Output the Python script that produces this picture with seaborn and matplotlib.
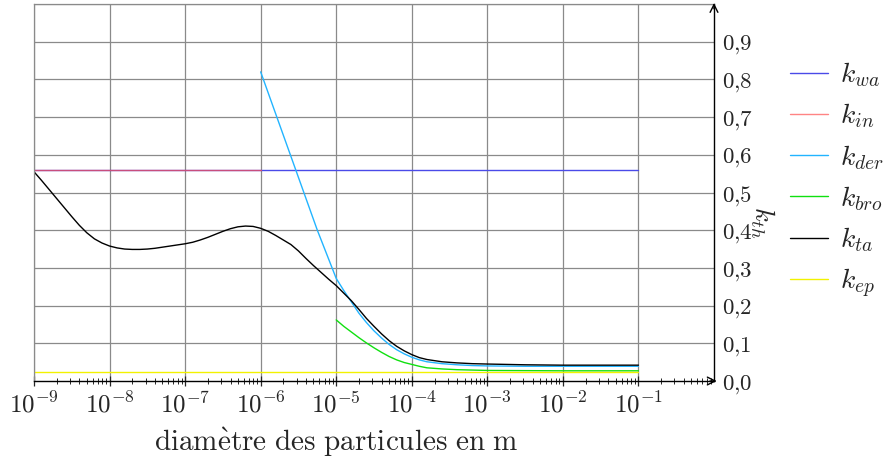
import numpy as np
import pandas as pd
import seaborn as sns
import matplotlib.pyplot as plt
from matplotlib.ticker import LogLocator, NullFormatter

# exponents of the particle diameter (m) and read-off conductivities
wa_exp = [-9, -1]
wa_val = [0.56, 0.56]

in_exp = [-9, -6]
in_val = [0.56, 0.56]

der_exp = [-6, -5.75, -5.5, -5.25, -5, -4.9, -4.8, -4.7, -4.6, -4.5, -4.4, -4.3, -4.2,
           -4.1, -4, -3.9, -3.8, -3.6, -3.4, -3.2, -3, -2.5, -2, -1]
der_val = [0.82, 0.68, 0.54, 0.40, 0.272, 0.24, 0.21, 0.18, 0.155, 0.133, 0.114, 0.097,
           0.083, 0.072, 0.063, 0.056, 0.051, 0.046, 0.043, 0.041, 0.040, 0.039, 0.039, 0.039]

bro_exp = [-5, -4.9, -4.8, -4.7, -4.6, -4.5, -4.4, -4.3, -4.2, -4.1, -4, -3.9, -3.8,
           -3.6, -3.4, -3.2, -3, -2, -1]
bro_val = [0.162, 0.145, 0.13, 0.115, 0.101, 0.088, 0.076, 0.065, 0.056, 0.049, 0.044,
           0.039, 0.035, 0.032, 0.030, 0.029, 0.028, 0.027, 0.027]

ta_exp = [-9, -8.9, -8.8, -8.7, -8.6, -8.5, -8.4, -8.3, -8.2, -8.1, -8, -7.9, -7.8, -7.7,
          -7.6, -7.5, -7.4, -7.3, -7.2, -7.1, -7, -6.9, -6.8, -6.7, -6.6, -6.5, -6.4,
          -6.3, -6.2, -6.1, -6, -5.9, -5.8, -5.7, -5.6, -5.5, -5.4, -5.3, -5.2, -5.1,
          -5, -4.9, -4.8, -4.7, -4.6, -4.5, -4.4, -4.3, -4.2, -4.1, -4, -3.9, -3.8,
          -3.6, -3.4, -3.2, -3, -2.5, -2, -1]
ta_val = [0.555, 0.532, 0.508, 0.484, 0.46, 0.436, 0.413, 0.393, 0.377, 0.366, 0.358,
          0.353, 0.350, 0.349, 0.349, 0.350, 0.352, 0.355, 0.358, 0.361, 0.364, 0.368,
          0.374, 0.381, 0.389, 0.397, 0.404, 0.409, 0.411, 0.410, 0.405, 0.397, 0.386,
          0.374, 0.362, 0.345, 0.325, 0.306, 0.288, 0.27, 0.253, 0.233, 0.213, 0.19,
          0.166, 0.145, 0.125, 0.107, 0.092, 0.08, 0.07, 0.062, 0.057, 0.051, 0.048,
          0.046, 0.045, 0.043, 0.042, 0.042]

ep_exp = [-9, -1]
ep_val = [0.025, 0.025]

series = [
    (r'$k_{wa}$', wa_exp, wa_val, '#4a4ae8', 1.0),
    (r'$k_{in}$', in_exp, in_val, '#ff5050', 0.7),
    (r'$k_{der}$', der_exp, der_val, '#22b4ff', 1.0),
    (r'$k_{bro}$', bro_exp, bro_val, '#10e010', 1.0),
    (r'$k_{ta}$', ta_exp, ta_val, '#000000', 1.0),
    (r'$k_{ep}$', ep_exp, ep_val, '#f2f200', 1.0),
]

sns.set_style('white')
plt.rcParams['mathtext.fontset'] = 'cm'
plt.rcParams['font.size'] = 14

fig = plt.figure(figsize=(8.88, 4.62), dpi=100)
ax = fig.add_axes([34 / 888, 1 - 381 / 462, 680 / 888, 377 / 462])

for label, xe, yv, color, alpha in series:
    df = pd.DataFrame({'d': 10.0 ** np.array(xe), 'k': yv})
    sns.lineplot(data=df, x='d', y='k', ax=ax, color=color, alpha=alpha,
                 linewidth=1.0, label=label, estimator=None, sort=False)

ax.set_xscale('log')
ax.set_xlim(1e-9, 1e0)
ax.set_ylim(0, 1.0)

# grid
for e in range(-9, 0):
    ax.axvline(10.0 ** e, color='#8a8a8a', linewidth=0.9, zorder=0)
for v in np.arange(1, 11) / 10:
    ax.axhline(v, color='#8a8a8a', linewidth=0.9, zorder=0)

# x ticks
ax.set_xticks([10.0 ** e for e in range(-9, 0)])
ax.set_xticklabels([r'$10^{%d}$' % e for e in range(-9, 0)], fontsize=18)
ax.xaxis.set_minor_locator(LogLocator(base=10, subs=np.arange(2, 10), numticks=20))
ax.xaxis.set_minor_formatter(NullFormatter())
ax.tick_params(axis='x', which='major', direction='inout', length=7, width=0.9,
               pad=4, bottom=True)
ax.tick_params(axis='x', which='minor', direction='inout', length=4, width=0.7,
               bottom=True)

# y axis on the right
ax.yaxis.tick_right()
ax.set_yticks(np.arange(0, 10) / 10)
ax.set_yticklabels([r'$0{,}%d$' % i for i in range(10)], fontsize=16.5)
ax.tick_params(axis='y', which='both', length=0, pad=6)

ax.set_xlabel(r'$\mathrm{diam\`etre\ des\ particules\ en\ m}$', fontsize=21)
ax.xaxis.set_label_coords(0.444, -0.12)
ax.set_ylabel(r'$k_{th}$', fontsize=19, rotation=-90)
ax.yaxis.set_label_position('right')
ax.yaxis.set_label_coords(1.092, 0.42)

for side in ['left', 'top']:
    ax.spines[side].set_color('#8a8a8a')
    ax.spines[side].set_linewidth(0.9)
for side in ['bottom', 'right']:
    ax.spines[side].set_color('black')
    ax.spines[side].set_linewidth(1.0)

# arrow heads on the two black axes
ax.annotate('', xy=(1.008, 0), xycoords='axes fraction', xytext=(0.99, 0),
            arrowprops=dict(arrowstyle='->', color='black', lw=1.0))
ax.annotate('', xy=(1, 1.01), xycoords='axes fraction', xytext=(1, 0.98),
            arrowprops=dict(arrowstyle='->', color='black', lw=1.0))

leg = ax.legend(loc='upper left', bbox_to_anchor=(1.096, 0.88), frameon=False,
                fontsize=20, handlelength=1.37, handletextpad=0.4,
                labelspacing=0.45, borderaxespad=0)

fig.savefig('out.png', dpi=100)
